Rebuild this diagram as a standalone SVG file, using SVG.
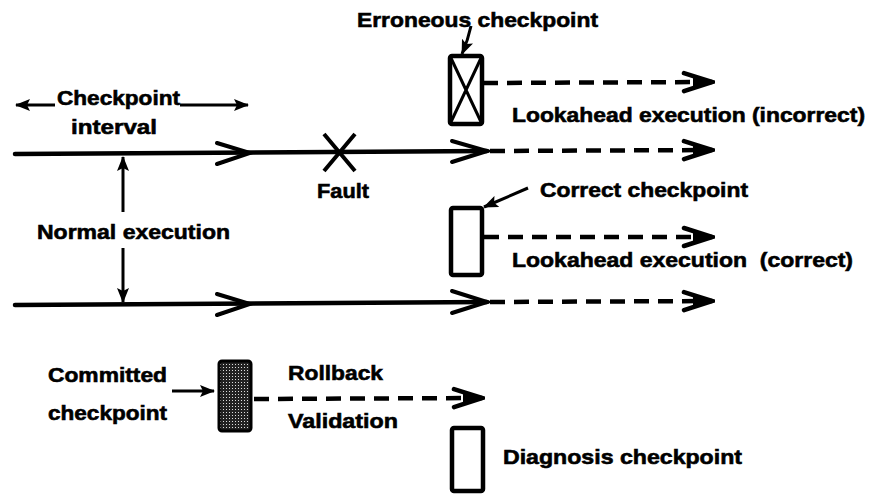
<svg xmlns="http://www.w3.org/2000/svg" width="872" height="494" viewBox="0 0 872 494">
<style>
text{font-family:"Liberation Sans",Arial,Helvetica,sans-serif;font-weight:bold;font-size:21px;fill:#000;stroke:#000;stroke-width:0.6}
.solid{stroke:#000;stroke-width:4.5;fill:none;stroke-linecap:round}
.dash{stroke:#000;stroke-width:4.5;fill:none;stroke-dasharray:15 9}
.chev{stroke:#000;stroke-width:4;fill:none;stroke-linecap:round;stroke-linejoin:miter}
.thin{stroke:#000;stroke-width:3;fill:none}
.box{stroke:#000;stroke-width:4.5;fill:#fff}
</style>
<defs>
<marker id="fh" markerUnits="userSpaceOnUse" markerWidth="16" markerHeight="12" refX="14" refY="6" orient="auto">
<path d="M0,0 L15,6 L0,12 L3,6 Z" fill="#000"/>
</marker>
<marker id="dh" markerUnits="userSpaceOnUse" markerWidth="34" markerHeight="26" refX="31" refY="13" orient="auto">
<path d="M3,4 L31,13 L3,22" stroke="#000" stroke-width="4.5" fill="none" stroke-linejoin="miter" stroke-linecap="round"/>
<path d="M31,13 L12,6 L12,20 Z" fill="#000"/>
</marker>
<pattern id="stip" width="3" height="3" patternUnits="userSpaceOnUse">
<rect width="3" height="3" fill="#222"/>
<rect x="1" y="1" width="1" height="1" fill="#ddd"/>
</pattern>
</defs>

<g id="connectors">
<!-- top execution line -->
<path class="solid" d="M15,154 L487,151"/>
<path class="chev" d="M217,143 L250,153 L217,164"/>
<path class="chev" d="M452,141 L487,151 L452,162"/>
<path class="dash" d="M490,151 L712,150" marker-end="url(#dh)"/>
<!-- bottom execution line -->
<path class="solid" d="M15,305 L487,302"/>
<path class="chev" d="M217,294 L250,304 L217,315"/>
<path class="chev" d="M452,291 L487,302 L452,313"/>
<path class="dash" d="M490,302 L712,301" marker-end="url(#dh)"/>
<!-- lookahead from erroneous checkpoint -->
<path class="dash" d="M483,83 L712,82" marker-end="url(#dh)"/>
<!-- lookahead from correct checkpoint -->
<path class="dash" d="M484,237 L712,237" marker-end="url(#dh)"/>
<!-- rollback / validation -->
<path class="dash" d="M254,399 L482,398" marker-end="url(#dh)"/>
<!-- checkpoint interval -->
<path class="thin" d="M55,105 L16,105" marker-end="url(#fh)"/>
<path class="thin" d="M180,105 L248,105" marker-end="url(#fh)"/>
<!-- normal execution -->
<path class="thin" d="M123,212 L123,157" marker-end="url(#fh)"/>
<path class="thin" d="M123,248 L123,302" marker-end="url(#fh)"/>
<!-- label pointers -->
<path class="thin" d="M471,26 Q468,40 462,54" marker-end="url(#fh)"/>
<path class="thin" d="M528,188 L484,207" marker-end="url(#fh)"/>
<path class="thin" d="M172,391 L214,391" marker-end="url(#fh)"/>
</g>

<g id="fault">
<path d="M324,134 L355,171 M355,134 L324,171" stroke="#000" stroke-width="4" fill="none"/>
<text x="317" y="198" textLength="52" lengthAdjust="spacingAndGlyphs">Fault</text>
</g>

<g id="erroneous-checkpoint">
<rect class="box" x="450" y="56" width="32" height="68" rx="2"/>
<path d="M450,56 L482,124 M482,56 L450,124" stroke="#000" stroke-width="3" fill="none"/>
<text x="357" y="27" textLength="241" lengthAdjust="spacingAndGlyphs">Erroneous checkpoint</text>
</g>

<g id="lookahead-incorrect">
<text x="512" y="122" textLength="353" lengthAdjust="spacingAndGlyphs">Lookahead execution (incorrect)</text>
</g>

<g id="checkpoint-interval">
<text x="57" y="105" textLength="123" lengthAdjust="spacingAndGlyphs">Checkpoint</text>
<text x="71" y="134" textLength="86" lengthAdjust="spacingAndGlyphs">interval</text>
</g>

<g id="normal-execution">
<text x="37" y="239" textLength="193" lengthAdjust="spacingAndGlyphs">Normal execution</text>
</g>

<g id="correct-checkpoint">
<rect class="box" x="451" y="208" width="31" height="67" rx="2"/>
<text x="540" y="197" textLength="208" lengthAdjust="spacingAndGlyphs">Correct checkpoint</text>
</g>

<g id="lookahead-correct">
<text x="512" y="267" textLength="341" lengthAdjust="spacingAndGlyphs" xml:space="preserve">Lookahead execution  (correct)</text>
</g>

<g id="committed-checkpoint">
<rect x="219" y="361" width="32" height="70" rx="3" fill="url(#stip)" stroke="#000" stroke-width="3"/>
<text x="48" y="382" textLength="119" lengthAdjust="spacingAndGlyphs">Committed</text>
<text x="48" y="420" textLength="119" lengthAdjust="spacingAndGlyphs">checkpoint</text>
</g>

<g id="rollback-validation">
<text x="288" y="380" textLength="95" lengthAdjust="spacingAndGlyphs">Rollback</text>
<text x="288" y="428" textLength="110" lengthAdjust="spacingAndGlyphs">Validation</text>
</g>

<g id="diagnosis-checkpoint">
<rect class="box" x="452" y="428" width="31" height="63" rx="2"/>
<text x="503" y="464" textLength="239" lengthAdjust="spacingAndGlyphs">Diagnosis checkpoint</text>
</g>
</svg>
